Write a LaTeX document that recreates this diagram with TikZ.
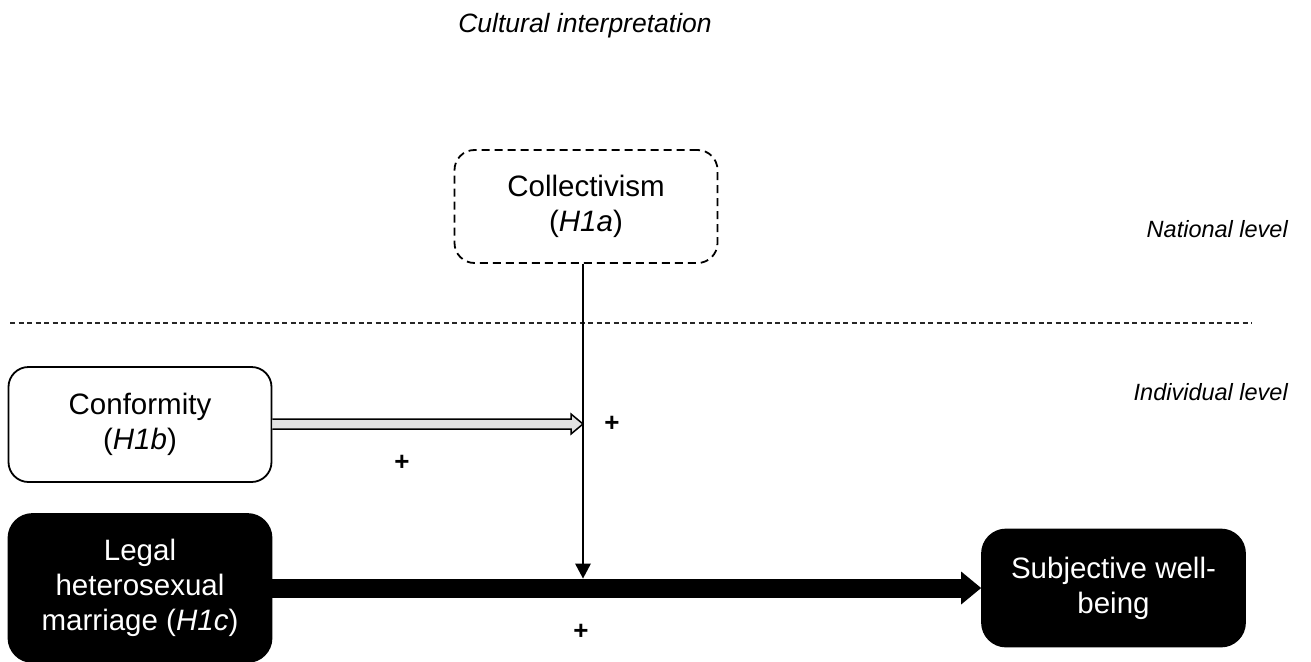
\documentclass[tikz,border=0pt]{standalone}
\usepackage{fontspec}
\setmainfont{Liberation Sans}
\usetikzlibrary{arrows.meta,calc}
\newcommand{\bxfont}{\fontsize{29.5}{35}\selectfont}
\newcommand{\lblfont}{\fontsize{23.5}{28}\selectfont\itshape}
\newcommand{\ttlfont}{\fontsize{26.5}{30}\selectfont\itshape}
\newcommand{\plfont}{\fontsize{26}{30}\selectfont\bfseries}
\begin{document}
\begin{tikzpicture}[x=1pt,y=-1pt,
  box/.style={rounded corners=20pt, draw=black, line width=1.8pt, inner sep=0pt,
    align=center, font=\bxfont, minimum width=263pt},
  dashbox/.style={box, dash pattern=on 8pt off 5pt},
  blackbox/.style={box, fill=black, text=white, rounded corners=24pt},
  lvl/.style={font=\lblfont, inner sep=0pt, anchor=base east},
  plus/.style={font=\plfont, inner sep=0pt},
  sep/.style={draw=black!85, line width=1.1pt, dash pattern=on 5pt off 3.5pt},
  thin/.style={line width=2pt, -{Triangle[length=15pt,width=16pt,line width=0pt]}},
  thick/.style={line width=19pt, -{Triangle[length=20pt,width=33pt,line width=0pt]}},
  hollow/.style={draw=black, line width=1.5pt, fill=gray!22, line join=miter}
]
\useasboundingbox (0,0) rectangle (1311,661);

% title and level labels
\node[font=\ttlfont, inner sep=0pt, anchor=base] (title) at (585,33) {Cultural interpretation};
\node[lvl] (natl) at (1288,237) {National level};
\node[lvl] (indl) at (1288,400) {Individual level};

% separator
\coordinate (dl) at (10,323);
\coordinate (dr) at (1252,323);
\draw[sep] (dl) -- (dr);

% boxes
\node[dashbox, minimum height=113pt] (coll) at (586,206.5) {Collectivism\\(\textit{H1a})};
\node[box, minimum height=115pt] (conf) at (140,424.5) {Conformity\\(\textit{H1b})};
\node[blackbox, minimum height=148pt] (legal) at (140,588) {Legal\\heterosexual\\marriage (\textit{H1c})};
\node[blackbox, minimum height=117pt] (swb) at (1113.5,588) {Subjective well-\\being};

% junction points
\coordinate (jtop) at (583,578.5);
\coordinate (jmid) at (583,424);

% main thick arrow
\draw[thick] (legal.east) -- (swb.west);

% moderator arrow from collectivism
\draw[thin] (coll.south -| jtop) -- (jtop);

% hollow double arrow from conformity
\draw[hollow] ([yshift=5pt]conf.east |- jmid) -- ([xshift=-12pt,yshift=5pt]jmid)
  -- ([xshift=-12pt,yshift=10pt]jmid) -- (jmid)
  -- ([xshift=-12pt,yshift=-10pt]jmid) -- ([xshift=-12pt,yshift=-5pt]jmid)
  -- ([yshift=-5pt]conf.east |- jmid);

% plus signs
\node[plus] (p1) at (612,424) {+};
\node[plus] (p2) at (402,463) {+};
\node[plus] (p3) at (581,632) {+};
\end{tikzpicture}
\end{document}
